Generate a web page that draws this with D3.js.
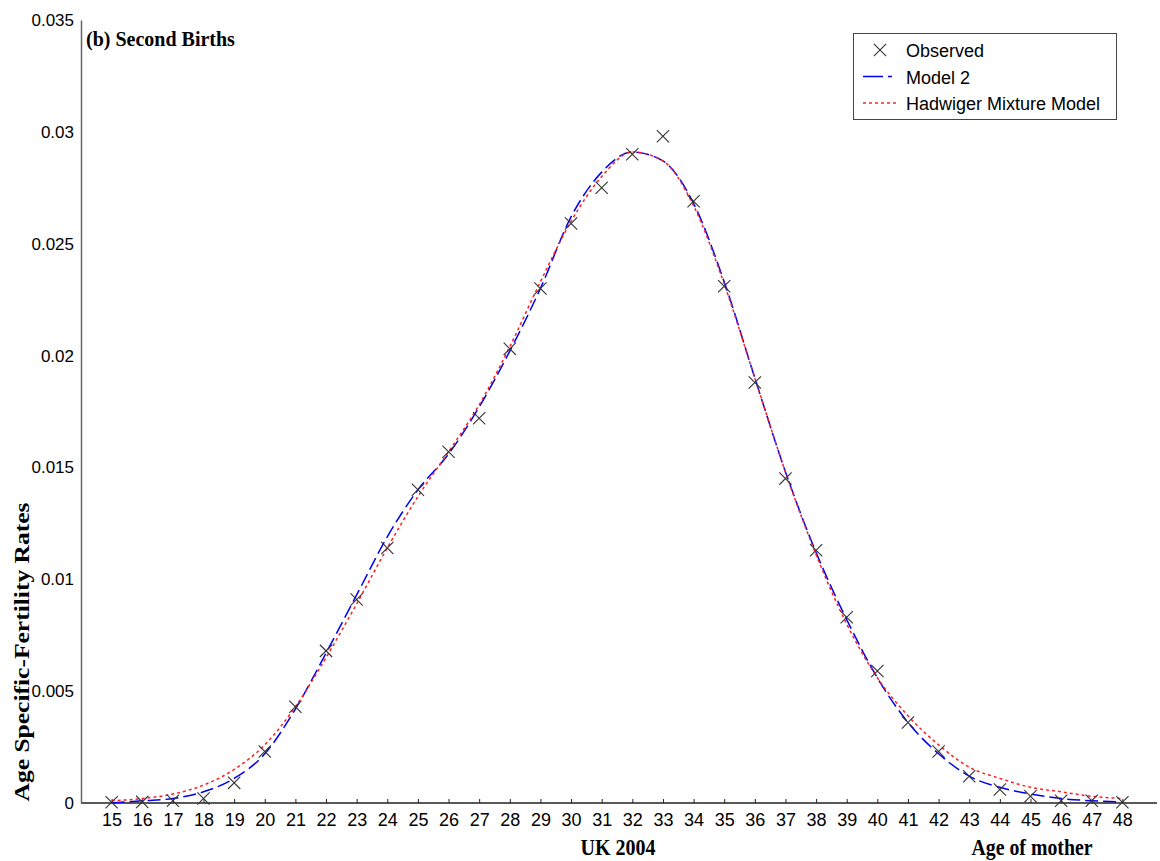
<!DOCTYPE html>
<html>
<head>
<meta charset="utf-8">
<script src="https://cdn.jsdelivr.net/npm/d3@7"></script>
<style>
  body { margin: 0; background: #fff; }
  svg { display: block; }
</style>
</head>
<body>
<svg id="chart" width="1160" height="861"></svg>
<script>
const ages = d3.range(15, 49)

const observed = [0.00003, 0.00005, 0.0001, 0.0002, 0.0009, 0.0023, 0.0043, 0.0068, 0.0091, 0.0114,
	0.0140, 0.0157, 0.0172, 0.0203, 0.0230, 0.0259, 0.0275, 0.0290, 0.0298, 0.0269,
	0.0231, 0.0188, 0.0145, 0.0113, 0.0083, 0.0059, 0.0036, 0.0023, 0.0012, 0.0006,
	0.0003, 0.0001, 0.0001, 0.00003]

const model2 = [0.0, 0.0001, 0.0002, 0.0005, 0.0011, 0.0022, 0.0042, 0.0067, 0.0093, 0.0119,
	0.0140, 0.0156, 0.0177, 0.0202, 0.0230, 0.0262, 0.0282, 0.0291, 0.0287, 0.0268,
	0.0233, 0.0190, 0.0148, 0.0112, 0.0082, 0.0056, 0.0036, 0.0022, 0.0012, 0.0007,
	0.0004, 0.0002, 0.0001, 0.00005]

const hadwiger = [0.0001, 0.0002, 0.0004, 0.0008, 0.0015, 0.0026, 0.0043, 0.0065, 0.0089, 0.0114,
	0.0137, 0.0157, 0.0178, 0.0204, 0.0233, 0.0260, 0.0280, 0.0291, 0.0287, 0.0267,
	0.0232, 0.0190, 0.0148, 0.0111, 0.0080, 0.0056, 0.0039, 0.0026, 0.0016, 0.0011,
	0.0007, 0.0005, 0.0003, 0.0002]

const yTicks = [0, 0.005, 0.01, 0.015, 0.02, 0.025, 0.03, 0.035]
const legendItems = ["Observed", "Model 2", "Hadwiger Mixture Model"]

const svg = d3.select('#chart')
const sans = 'Liberation Sans, Arial, sans-serif'
const serif = 'Liberation Serif, Times New Roman, serif'

const xScale = d3.scaleLinear()
	.domain([14, 49])
	.range([81, 1153])

const yScale = d3.scaleLinear()
	.domain([0, 0.035])
	.range([803, 20])

// x axis
const xAxis = svg.append('g')
	.attr('transform', `translate(0, ${yScale(0)})`)
	.call(d3.axisBottom(xScale).tickValues(ages).tickSizeInner(-4).tickSizeOuter(0).tickPadding(10).tickFormat(d3.format('d')))
xAxis.select('.domain').attr('stroke', '#222').attr('stroke-width', 1.5).attr('d', `M81,0H1157`)
xAxis.selectAll('.tick line').attr('stroke', '#222')
xAxis.selectAll('text')
	.attr('font-family', sans)
	.attr('font-size', 18)
	.attr('fill', '#000')

// y axis
const yAxis = svg.append('g')
	.attr('transform', `translate(${xScale(14)}, 0)`)
	.call(d3.axisLeft(yScale).tickValues(yTicks).tickSize(0).tickPadding(7).tickFormat(d => d === 0 ? '0' : String(+d.toFixed(3))))
yAxis.select('.domain').attr('stroke', '#666').attr('stroke-width', 1.5)
yAxis.selectAll('text')
	.attr('font-family', sans)
	.attr('font-size', 17)
	.attr('fill', '#000')

// curves
const line = d3.line()
	.x((d, i) => xScale(ages[i]))
	.y(d => yScale(d))
	.curve(d3.curveMonotoneX)

svg.append('path')
	.datum(model2)
	.attr('d', line)
	.attr('fill', 'none')
	.attr('stroke', '#0000f0')
	.attr('stroke-width', 1.5)
	.attr('stroke-dasharray', '13,5')

svg.append('path')
	.datum(hadwiger)
	.attr('d', line)
	.attr('fill', 'none')
	.attr('stroke', '#ff2020')
	.attr('stroke-width', 1.5)
	.attr('stroke-dasharray', '3,3')

// observed markers
const cross = d3.symbol().type(d3.symbolX).size(100)
svg.append('g')
	.selectAll('path')
	.data(observed)
	.join('path')
	.attr('transform', (d, i) => `translate(${xScale(ages[i])}, ${yScale(d)})`)
	.attr('d', cross)
	.attr('fill', 'none')
	.attr('stroke', '#333')
	.attr('stroke-width', 1.1)

// titles
svg.append('text')
	.attr('x', 86)
	.attr('y', 46)
	.attr('font-family', serif)
	.attr('font-weight', 'bold')
	.attr('font-size', 20)
	.text('(b) Second Births')

svg.append('text')
	.attr('transform', 'translate(29, 652) rotate(-90)')
	.attr('text-anchor', 'middle')
	.attr('font-family', serif)
	.attr('font-weight', 'bold')
	.attr('font-size', 22)
	.attr('textLength', 299)
	.attr('lengthAdjust', 'spacingAndGlyphs')
	.text('Age Specific-Fertility Rates')

svg.append('text')
	.attr('x', 618)
	.attr('y', 855)
	.attr('text-anchor', 'middle')
	.attr('font-family', serif)
	.attr('font-weight', 'bold')
	.attr('font-size', 23)
	.attr('textLength', 75)
	.attr('lengthAdjust', 'spacingAndGlyphs')
	.text('UK 2004')

svg.append('text')
	.attr('x', 1032)
	.attr('y', 855)
	.attr('text-anchor', 'middle')
	.attr('font-family', serif)
	.attr('font-weight', 'bold')
	.attr('font-size', 23)
	.attr('textLength', 121)
	.attr('lengthAdjust', 'spacingAndGlyphs')
	.text('Age of mother')

// legend
const legend = svg.append('g')
legend.append('rect')
	.attr('x', 853.5).attr('y', 33.5)
	.attr('width', 263).attr('height', 86)
	.attr('fill', '#fff')
	.attr('stroke', '#444')
	.attr('stroke-width', 1)

const rowY = d3.scalePoint().domain(legendItems).range([50, 103])

legend.append('path')
	.attr('transform', `translate(880, ${rowY('Observed')})`)
	.attr('d', cross)
	.attr('fill', 'none')
	.attr('stroke', '#333')
	.attr('stroke-width', 1.1)

legend.append('line')
	.attr('x1', 863).attr('x2', 896)
	.attr('y1', rowY('Model 2')).attr('y2', rowY('Model 2'))
	.attr('stroke', '#0000f0').attr('stroke-width', 1.5)
	.attr('stroke-dasharray', '20,5,4,5')

legend.append('line')
	.attr('x1', 863).attr('x2', 896)
	.attr('y1', rowY('Hadwiger Mixture Model')).attr('y2', rowY('Hadwiger Mixture Model'))
	.attr('stroke', '#ff2020').attr('stroke-width', 1.5)
	.attr('stroke-dasharray', '3,3')

legend.selectAll('text')
	.data(legendItems)
	.join('text')
	.attr('x', 906)
	.attr('y', d => rowY(d) + 7)
	.attr('font-family', sans)
	.attr('font-size', 18)
	.text(d => d)
</script>
</body>
</html>
